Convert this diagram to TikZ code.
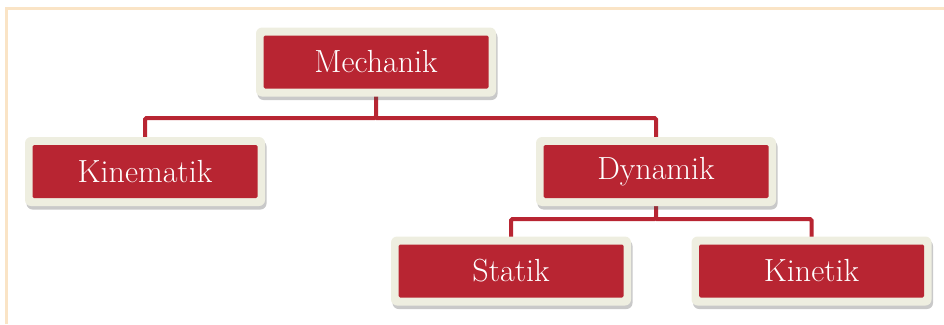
\documentclass[tikz,border=0pt]{standalone}
\usetikzlibrary{shadows,backgrounds}
\definecolor{boxred}{HTML}{B82532}
\definecolor{boxcream}{HTML}{EEEEE0}
\definecolor{framepeach}{HTML}{FAE4C6}
\tikzset{
  x=1pt,y=-1pt,
  catbox/.style={fill=boxcream, rounded corners=6pt,
    minimum width=240pt, minimum height=69pt, inner sep=0pt, text=white,
    font=\fontsize{32}{36}\selectfont,
    drop shadow={shadow xshift=1.5pt, shadow yshift=-3.5pt, opacity=0.3, fill=black!70},
    path picture={\fill[boxred, rounded corners=1.5pt]
      ([shift={(7.5pt,-8pt)}]path picture bounding box.north west) rectangle
      ([shift={(-7.5pt,8pt)}]path picture bounding box.south east);}},
  conn/.style={draw=boxred, line width=4pt, rounded corners=1.5pt}
}
\begin{document}
\begin{tikzpicture}
\useasboundingbox (0,0) rectangle (944,324);
\draw[framepeach, line width=3pt] (6,324) -- (6,8.7) -- (944,8.7);
\node[catbox] (mech) at (376,62) {Mechanik};
\node[catbox] (kin) at (145,171.5) {Kinematik};
\node[catbox] (dyn) at (656,171.5) {Dynamik};
\node[catbox] (stat) at (511,271) {Statik};
\node[catbox] (kinet) at (811.5,271) {Kinetik};
\coordinate (j1) at (376,118);
\coordinate (j2) at (656,219);
\begin{pgfonlayer}{background}
\draw[conn] (mech.center) -- (j1) -| (kin.center);
\draw[conn] (j1) -| (dyn.center);
\draw[conn] (dyn.center) -- (j2) -| (stat.center);
\draw[conn] (j2) -| (kinet.center);
\end{pgfonlayer}
\end{tikzpicture}
\end{document}
